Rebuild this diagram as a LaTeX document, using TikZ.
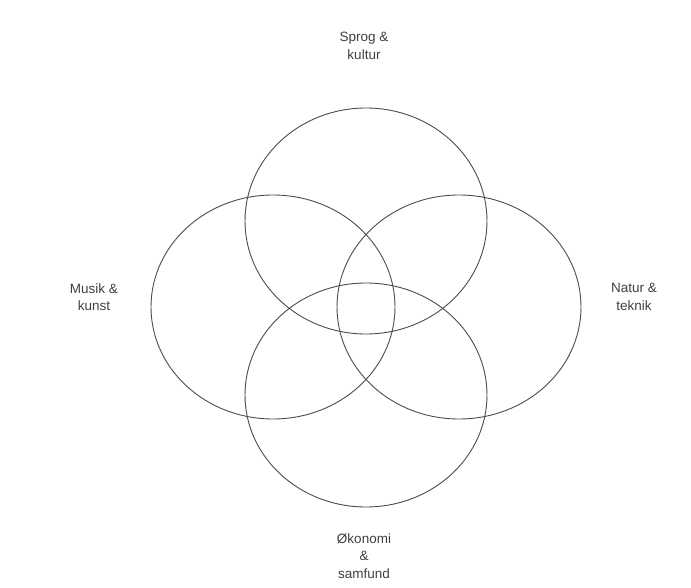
\documentclass[tikz,border=0pt]{standalone}
\usepackage{fontspec}
\setmainfont{Liberation Sans}
\begin{document}
\begin{tikzpicture}[x=1pt,y=-1pt,
  ring/.style={draw=black!70, line width=0.9pt},
  lbl/.style={text=black!75, align=center, font=\fontsize{13.5}{17.5}\selectfont, inner sep=0pt}]
\useasboundingbox (0,0) rectangle (691,588);
\fill[white] (0,0) rectangle (691,588);
\draw[ring] (366,221) ellipse [x radius=121, y radius=113];
\draw[ring] (273,307) ellipse [x radius=122, y radius=112];
\draw[ring] (459,307) ellipse [x radius=122, y radius=112];
\draw[ring] (366,395) ellipse [x radius=121, y radius=112];
\node[lbl] (top) at (364,46) {Sprog \&\\kultur};
\node[lbl] (left) at (94,297) {Musik \&\\kunst};
\node[lbl] (right) at (634,297) {Natur \&\\teknik};
\node[lbl] (bottom) at (364,556) {Økonomi\\\&\\samfund};
\end{tikzpicture}
\end{document}
